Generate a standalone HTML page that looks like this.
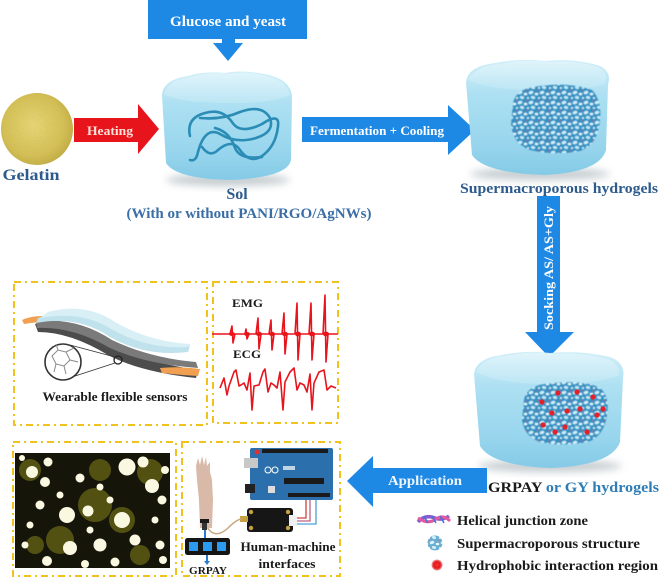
<!DOCTYPE html>
<html><head><meta charset="utf-8">
<style>
html,body{margin:0;padding:0;background:#fff;}
svg{display:block;}
text{font-family:"Liberation Serif",serif;font-weight:bold;}
</style></head>
<body>
<svg width="660" height="579" viewBox="0 0 660 579" xmlns="http://www.w3.org/2000/svg">
<defs>
  <linearGradient id="cube" x1="0" y1="0" x2="0" y2="1">
    <stop offset="0" stop-color="#d2eff9"/>
    <stop offset="0.3" stop-color="#ade0f2"/>
    <stop offset="0.75" stop-color="#97d5ed"/>
    <stop offset="1" stop-color="#84cae6"/>
  </linearGradient>
  <linearGradient id="cubeTop" x1="0" y1="0" x2="0" y2="1">
    <stop offset="0" stop-color="#e2f5fb"/>
    <stop offset="1" stop-color="#bde6f4"/>
  </linearGradient>
  <radialGradient id="gel" cx="0.45" cy="0.45" r="0.6">
    <stop offset="0" stop-color="#e8d878"/>
    <stop offset="0.7" stop-color="#d4c055"/>
    <stop offset="1" stop-color="#bfa940"/>
  </radialGradient>
  <radialGradient id="reddot" cx="0.5" cy="0.5" r="0.5">
    <stop offset="0" stop-color="#ff3030"/>
    <stop offset="0.6" stop-color="#e01820"/>
    <stop offset="1" stop-color="#f4a0a0"/>
  </radialGradient>
  <pattern id="net" width="11" height="10" patternUnits="userSpaceOnUse">
    <rect width="11" height="10" fill="#3592c2"/>
    <ellipse cx="3" cy="2.5" rx="2.4" ry="1.6" fill="#cdeefa" transform="rotate(-20 3 2.5)"/>
    <ellipse cx="8.5" cy="4" rx="1.8" ry="1.3" fill="#e0f5fc"/>
    <ellipse cx="5" cy="7.5" rx="2.2" ry="1.5" fill="#bfe8f7" transform="rotate(15 5 7.5)"/>
    <ellipse cx="0" cy="8" rx="1.2" ry="1" fill="#cdeefa"/>
    <ellipse cx="11" cy="8" rx="1.2" ry="1" fill="#cdeefa"/>
    <circle cx="10" cy="0.5" r="0.8" fill="#b04a8a"/>
  </pattern>
  <filter id="blur" x="-20%" y="-50%" width="140%" height="200%"><feGaussianBlur stdDeviation="4"/></filter>
  <filter id="soft" x="-10%" y="-10%" width="120%" height="120%"><feGaussianBlur stdDeviation="0.6"/></filter>
  <filter id="speck">
    <feTurbulence type="fractalNoise" baseFrequency="0.9" numOctaves="2" seed="3"/>
    <feColorMatrix values="0 0 0 0 0.55  0 0 0 0 0.45  0 0 0 0 0.1  0 0 0 1.2 -0.45"/>
    <feComposite in2="SourceGraphic" operator="in"/>
  </filter>
</defs>

<!-- ================= TOP ROW ================= -->
<rect x="148" y="0" width="159" height="39" fill="#1e88e5"/>
<rect x="222" y="38" width="13" height="6" fill="#1e88e5"/>
<polygon points="213,43 243,43 228,61" fill="#1e88e5"/>
<text x="228" y="26" font-size="14.5" fill="#fff" text-anchor="middle" textLength="116" lengthAdjust="spacingAndGlyphs">Glucose and yeast</text>

<circle cx="37" cy="129" r="36" fill="url(#gel)"/>
<circle cx="37" cy="129" r="36" fill="#c9b448" filter="url(#speck)" opacity="0.7"/>
<text x="31" y="180" font-size="16" fill="#2d5b8c" text-anchor="middle" textLength="57" lengthAdjust="spacingAndGlyphs">Gelatin</text>

<polygon points="74,118 138,118 138,104 159,129 138,154 138,142 74,142" fill="#e8141c"/>
<text x="110" y="135" font-size="13" fill="#fde2da" text-anchor="middle" textLength="46" lengthAdjust="spacingAndGlyphs">Heating</text>

<!-- Sol cube -->
<ellipse cx="228" cy="180" rx="62" ry="6" fill="#8a9aa0" opacity="0.5" filter="url(#blur)"/>
<path d="M162,96 Q162,80 188,76 Q205,71 225,73 Q240,70 258,73 Q290,77 292,96 L291,160 Q288,177 232,180 Q176,179 166,163 Z" fill="url(#cube)"/>
<path d="M164,94 Q168,80 190,77 Q210,72 228,74 Q245,71 262,75 Q288,80 290,95 Q270,104 228,103 Q180,103 164,94 Z" fill="url(#cubeTop)" opacity="0.9"/>
<g fill="none" stroke="#2b8db6" stroke-width="2.6" stroke-linecap="round">
  <path d="M190,136 Q186,118 205,113 Q222,108 232,122 Q240,135 262,124 Q280,112 278,126 Q276,146 262,156 Q250,164 240,150 Q232,138 218,150 Q210,158 202,147"/>
  <path d="M200,118 Q222,120 240,112 Q262,104 270,118 Q275,132 256,138 Q236,144 220,134 Q205,126 198,152 Q196,162 190,160"/>
  <path d="M215,128 Q230,132 235,148 Q240,160 262,157"/>
</g>
<text x="237" y="199" font-size="16" fill="#2d5b8c" text-anchor="middle">Sol</text>
<text x="249" y="218" font-size="15" fill="#3a6ea6" text-anchor="middle" textLength="245" lengthAdjust="spacingAndGlyphs">(With or without PANI/RGO/AgNWs)</text>

<polygon points="302,117 448,117 448,105 475,130 448,155 448,142 302,142" fill="#1e88e5"/>
<text x="377" y="135" font-size="13" fill="#fff" text-anchor="middle" textLength="134" lengthAdjust="spacingAndGlyphs">Fermentation + Cooling</text>

<!-- Supermacroporous hydrogel cube -->
<ellipse cx="540" cy="174" rx="70" ry="6" fill="#8a9aa0" opacity="0.5" filter="url(#blur)"/>
<path d="M466,82 Q468,66 495,63 Q520,58 545,61 Q575,58 600,66 Q612,72 608,85 L606,150 Q600,172 545,175 Q484,173 472,155 Z" fill="url(#cube)"/>
<path d="M468,80 Q475,66 500,64 Q525,59 548,62 Q580,60 600,68 Q610,76 604,84 Q575,92 538,90 Q490,90 468,80 Z" fill="url(#cubeTop)" opacity="0.9"/>
<path d="M513,103 Q516,88 540,86 Q570,82 592,90 Q602,100 600,120 Q598,145 580,151 Q555,156 530,150 Q513,144 511,124 Z" fill="url(#net)" filter="url(#soft)"/>

<text x="559" y="193" font-size="15" fill="#2d5b8c" text-anchor="middle" textLength="198" lengthAdjust="spacingAndGlyphs">Supermacroporous hydrogels</text>

<rect x="537" y="196" width="23" height="137" fill="#1e88e5"/>
<polygon points="525,332 574,332 549,357" fill="#1e88e5"/>
<text transform="translate(553,268) rotate(-90)" x="0" y="0" font-size="13" fill="#fff" text-anchor="middle" textLength="124" lengthAdjust="spacingAndGlyphs">Socking AS/ AS+Gly</text>

<!-- GRPAY cube -->
<ellipse cx="550" cy="466" rx="72" ry="6" fill="#8a9aa0" opacity="0.5" filter="url(#blur)"/>
<path d="M474,374 Q476,358 502,355 Q525,350 550,353 Q580,350 610,357 Q626,363 623,378 L620,442 Q612,465 552,468 Q492,466 480,446 Z" fill="url(#cube)"/>
<path d="M476,372 Q482,358 506,356 Q530,351 552,354 Q585,352 610,360 Q622,368 618,376 Q585,386 548,384 Q500,384 476,372 Z" fill="url(#cubeTop)" opacity="0.9"/>
<path d="M524,400 Q526,385 552,383 Q585,380 600,388 Q610,396 607,415 Q604,436 588,442 Q560,447 540,442 Q524,436 522,420 Z" fill="url(#net)" filter="url(#soft)"/>
<g fill="#e4202a">
  <circle cx="558" cy="393" r="2.6"/><circle cx="577" cy="392" r="2.6"/><circle cx="593" cy="397" r="2.6"/>
  <circle cx="542" cy="402" r="2.6"/><circle cx="552" cy="413" r="2.6"/><circle cx="567" cy="411" r="2.6"/>
  <circle cx="580" cy="409" r="2.6"/><circle cx="597" cy="415" r="2.6"/><circle cx="543" cy="425" r="2.6"/>
  <circle cx="555" cy="432" r="2.6"/><circle cx="565" cy="427" r="2.6"/><circle cx="587" cy="432" r="2.6"/>
  <circle cx="603" cy="409" r="2.6"/>
</g>
<text x="488" y="492" font-size="15" fill="#1a1a1a" textLength="171" lengthAdjust="spacingAndGlyphs">GRPAY <tspan fill="#2e7db6">or GY hydrogels</tspan></text>

<polygon points="487,468 373,468 373,456 347,481 373,507 373,493 487,493" fill="#1e88e5"/>
<text x="425" y="485" font-size="14" fill="#eef6ff" text-anchor="middle" textLength="74" lengthAdjust="spacingAndGlyphs">Application</text>

<!-- Legend -->
<g>
  <path d="M418,522 Q425,514 435,518 Q442,521 449,516" stroke="#8b5bd0" stroke-width="3.5" fill="none"/>
  <path d="M418,518 Q428,525 436,519 Q443,514 450,521" stroke="#e05aa0" stroke-width="3" fill="none"/>
  <path d="M424,516 L428,523 M432,516 L436,523 M440,516 L444,523" stroke="#4a70d8" stroke-width="1.5"/>
</g>
<text x="457" y="525" font-size="14" fill="#1a1a1a" textLength="131" lengthAdjust="spacingAndGlyphs">Helical junction zone</text>
<circle cx="435" cy="543" r="7.5" fill="url(#net)" opacity="0.75"/>
<text x="457" y="548" font-size="14" fill="#1a1a1a" textLength="183" lengthAdjust="spacingAndGlyphs">Supermacroporous structure</text>
<circle cx="437" cy="565" r="5.5" fill="url(#reddot)"/>
<text x="457" y="570" font-size="14" fill="#1a1a1a" textLength="201" lengthAdjust="spacingAndGlyphs">Hydrophobic interaction region</text>

<!-- ================= BOTTOM-LEFT PANELS ================= -->
<g fill="none" stroke="#f1c21b" stroke-width="2" stroke-dasharray="7 4 2 4">
  <rect x="14" y="282" width="193" height="143"/>
  <rect x="213" y="282" width="125" height="141"/>
  <rect x="13" y="442" width="163" height="134"/>
  <rect x="182" y="442" width="158" height="134"/>
</g>

<!-- Wearable sensor -->
<g>
  <path d="M22,320 Q35,314 55,317 L52,323 Q38,321 24,324 Z" fill="#f0a050"/>
  <path d="M35,324 Q70,318 110,345 Q145,362 198,370 L196,378 Q140,372 108,355 Q70,332 38,332 Z" fill="#4c4c4c"/>
  <path d="M36,322 Q75,316 112,340 Q150,358 196,362 L198,368 Q145,364 110,348 Q72,326 37,328 Z" fill="#7a7a7a"/>
  <path d="M38,318 Q80,305 112,328 Q150,350 190,346 L188,352 Q145,357 110,337 Q78,315 36,323 Z" fill="#bfe2ec"/>
  <path d="M48,312 Q85,302 115,322 Q150,342 190,344 L190,347 Q150,350 113,330 Q82,310 40,318 Z" fill="#d8eff5"/>
  <path d="M160,368 Q178,366 200,369 L198,376 Q180,375 162,373 Z" fill="#f0a050"/>
  <circle cx="63" cy="362" r="18" fill="#fff" stroke="#333" stroke-width="1.6"/>
  <g stroke="#888" stroke-width="1" fill="none">
    <path d="M52,356 L58,350 L66,352 L70,360 L64,366 L56,364 Z M66,352 L74,348 M70,360 L78,362 M56,364 L54,372 M64,366 L66,374 M58,350 L56,344"/>
  </g>
  <circle cx="118" cy="360" r="4" fill="none" stroke="#222" stroke-width="1.3"/>
  <line x1="70" y1="345" x2="115" y2="357" stroke="#333" stroke-width="0.9"/>
  <line x1="72" y1="377" x2="115" y2="363" stroke="#333" stroke-width="0.9"/>
</g>
<text x="115" y="401" font-size="13" fill="#1a1a1a" text-anchor="middle" textLength="145" lengthAdjust="spacingAndGlyphs">Wearable flexible sensors</text>

<!-- EMG / ECG -->
<text x="232" y="307" font-size="12" fill="#1a1a1a" textLength="31" lengthAdjust="spacingAndGlyphs">EMG</text>
<text x="233" y="358" font-size="12" fill="#1a1a1a" textLength="28" lengthAdjust="spacingAndGlyphs">ECG</text>
<g stroke="#e8141c" stroke-width="1.6" fill="none" stroke-linejoin="round">
  <path d="M212,334 L230,334 L232,326 L233,343 L235,334 L245,334 L246,329 L247,339 L249,334 L256,334 L258,318 L259,349 L261,334 L269,334 L271,320 L272,350 L274,334 L282,334 L284,313 L285,354 L287,334 L295,334 L297,303 L298,360 L300,334 L309,334 L311,303 L312,360 L314,334 L323,334 L325,295 L326,362 L328,334 L338,334"/>
  <path d="M220,388 L224,378 L227,395 L229,386 L234,372 L236,370 L239,386 L241,385 L244,383 L247,390 L250,373 L252,410 L254,386 L259,385 L263,372 L265,369 L268,392 L271,383 L274,385 L277,388 L280,372 L283,410 L285,382 L290,372 L294,368 L297,390 L300,383 L304,385 L307,392 L310,374 L312,410 L314,383 L319,372 L324,370 L327,390 L331,386 L336,388"/>
</g>
<g fill="#e8141c">
  <ellipse cx="232" cy="334" rx="3" ry="2"/><ellipse cx="247" cy="334" rx="3" ry="2"/>
  <ellipse cx="259" cy="334" rx="3" ry="2.2"/><ellipse cx="272" cy="334" rx="3" ry="2.2"/>
  <ellipse cx="285" cy="334" rx="3" ry="2.2"/><ellipse cx="298" cy="334" rx="3" ry="2.4"/>
  <ellipse cx="312" cy="334" rx="3" ry="2.4"/><ellipse cx="326" cy="334" rx="3" ry="2.4"/>
</g>

<!-- Microscopy image -->
<rect x="15" y="453" width="155" height="115" fill="#15150a"/>
<g fill="#5e5c14" opacity="0.85">
  <circle cx="95" cy="505" r="17"/><circle cx="60" cy="540" r="14"/><circle cx="122" cy="520" r="13"/>
  <circle cx="30" cy="470" r="11"/><circle cx="150" cy="472" r="13"/><circle cx="100" cy="470" r="11"/>
  <circle cx="140" cy="555" r="10"/><circle cx="35" cy="545" r="9"/>
</g>
<g fill="#fbf8e2">
  <circle cx="32" cy="472" r="6"/><circle cx="48" cy="462" r="4.5"/><circle cx="45" cy="482" r="5"/>
  <circle cx="80" cy="478" r="4.5"/><circle cx="100" cy="487" r="3.5"/><circle cx="127" cy="467" r="8.5"/>
  <circle cx="143" cy="462" r="5.5"/><circle cx="152" cy="486" r="7"/><circle cx="162" cy="500" r="4.5"/>
  <circle cx="67" cy="515" r="8"/><circle cx="88" cy="511" r="5.5"/><circle cx="40" cy="505" r="4.5"/>
  <circle cx="122" cy="520" r="8"/><circle cx="100" cy="545" r="6.5"/><circle cx="70" cy="548" r="7"/>
  <circle cx="47" cy="561" r="5"/><circle cx="135" cy="540" r="5.5"/><circle cx="160" cy="545" r="4.5"/>
  <circle cx="155" cy="520" r="3.5"/><circle cx="90" cy="530" r="3.5"/><circle cx="25" cy="545" r="3.5"/>
  <circle cx="110" cy="500" r="3.5"/><circle cx="60" cy="495" r="3.5"/><circle cx="30" cy="525" r="3.5"/>
  <circle cx="165" cy="470" r="4"/><circle cx="115" cy="562" r="4.5"/><circle cx="85" cy="564" r="4"/>
  <circle cx="163" cy="560" r="4"/><circle cx="22" cy="458" r="3"/>
</g>

<!-- Human-machine interface -->
<rect x="250" y="448" width="83" height="52" rx="2" fill="#2b70ad"/>
<rect x="244" y="458" width="14" height="10" fill="#c8c8c8"/>
<rect x="245" y="484" width="10" height="9" fill="#222"/>
<rect x="262" y="449" width="66" height="4" fill="#1a1a1a"/>
<rect x="288" y="493" width="42" height="4" fill="#1a1a1a"/>
<rect x="284" y="478" width="40" height="6" fill="#1a1a1a"/>
<circle cx="257" cy="452" r="2.5" fill="#e03030"/>
<circle cx="268" cy="470" r="3" fill="none" stroke="#fff" stroke-width="1"/>
<circle cx="275" cy="470" r="3" fill="none" stroke="#fff" stroke-width="1"/>
<rect x="283" y="466" width="12" height="4" fill="#fff" opacity="0.7"/>
<rect x="268" y="486" width="7" height="7" fill="#ddd"/>
<path d="M296,518 L306,518 L306,500" stroke="#d04040" stroke-width="1.3" fill="none"/>
<path d="M296,521 L310,521 L310,500" stroke="#c06080" stroke-width="1.3" fill="none"/>
<path d="M296,524 L316,524 L316,500" stroke="#4aa0d8" stroke-width="1.3" fill="none"/>
<rect x="247" y="508" width="46" height="24" rx="3" fill="#161616"/>
<circle cx="251" cy="512" r="2.2" fill="#c8a040"/><circle cx="251" cy="528" r="2.2" fill="#c8a040"/>
<circle cx="288" cy="512" r="2.2" fill="#c8a040"/><circle cx="288" cy="528" r="2.2" fill="#c8a040"/>
<rect x="289" y="515" width="8" height="11" fill="#f0f0f0"/>
<rect x="240" y="516" width="8" height="6" fill="#c8a040"/>
<path d="M207,527 Q215,540 228,528 Q236,520 241,519" stroke="#c8a880" stroke-width="1.5" fill="none"/>
<path d="M196,466 L198,458 L200,465 L202,456 L204,465 L206,457 L207,466 L210,462 L210,472 L212,480 L213,500 L212,528 L200,528 L199,500 L197,480 Z" fill="#d9b9a8"/>
<rect x="200" y="519" width="9" height="4" fill="#1a1a1a"/>
<rect x="202" y="523" width="5" height="7" fill="#333"/>
<line x1="205" y1="530" x2="205" y2="538" stroke="#2a7ad0" stroke-width="2"/>
<line x1="207" y1="555" x2="207" y2="561" stroke="#2a7ad0" stroke-width="2"/>
<polygon points="204,561 210,561 207,565" fill="#2a7ad0"/>
<rect x="185" y="538" width="45" height="17" rx="2.5" fill="#151515"/>
<rect x="189" y="542" width="9" height="9" fill="#2b9bf2"/>
<rect x="203" y="542" width="9" height="9" fill="#2b9bf2"/>
<rect x="217" y="542" width="9" height="9" fill="#2b9bf2"/>
<text x="208" y="574" font-size="11" fill="#1a1a1a" text-anchor="middle" textLength="38" lengthAdjust="spacingAndGlyphs">GRPAY</text>
<text x="288" y="551" font-size="13" fill="#1a1a1a" text-anchor="middle" textLength="95" lengthAdjust="spacingAndGlyphs">Human-machine</text>
<text x="287" y="568" font-size="13" fill="#1a1a1a" text-anchor="middle" textLength="57" lengthAdjust="spacingAndGlyphs">interfaces</text>
</svg>
</body></html>
